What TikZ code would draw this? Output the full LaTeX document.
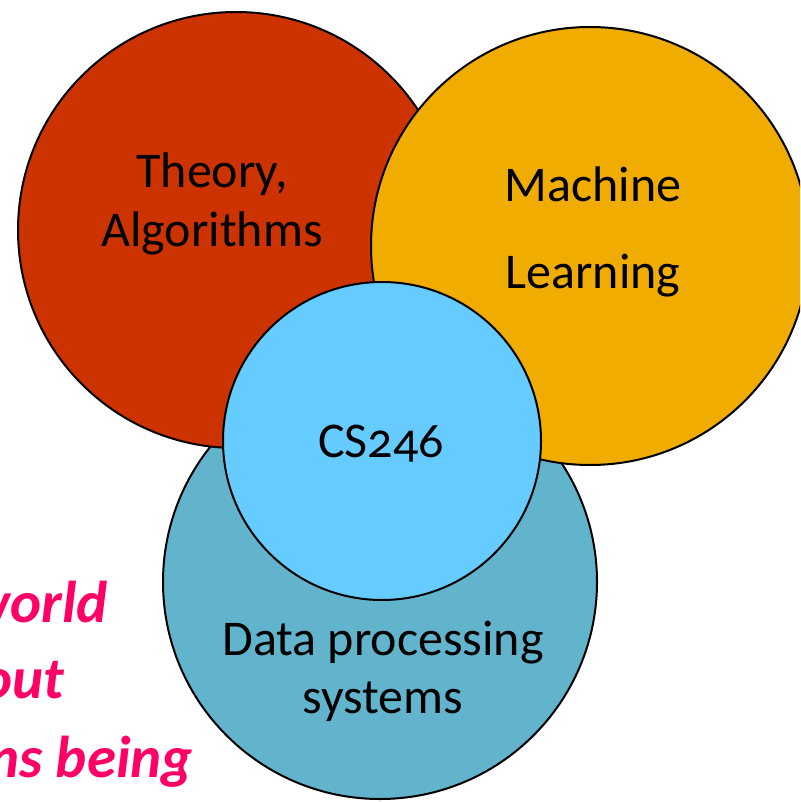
\documentclass[tikz,border=0pt]{standalone}
\usepackage{fontspec}
\setmainfont{Carlito}[Numbers=OldStyle]
\definecolor{theoryred}{HTML}{CC3300}
\definecolor{mlorange}{HTML}{F0AC00}
\definecolor{datateal}{HTML}{62B4CC}
\definecolor{csblue}{HTML}{66CCFF}
\definecolor{notepink}{HTML}{FF0066}
\tikzset{
    disc/.style={circle,draw=black,line width=2pt,inner sep=0pt},
    lbl/.style={anchor=base,font=\fontsize{50}{60}\selectfont,inner sep=0pt},
    note/.style={anchor=base east,text=notepink,font=\fontsize{59}{70}\selectfont\bfseries\itshape,inner sep=0pt}
}
\begin{document}
\begin{tikzpicture}[x=1pt,y=-1pt]
        \clip (0,0) rectangle (800,802);
        \fill[white] (0,0) rectangle (800,802);
        % the three fields, then the course on top
        \node[disc,fill=datateal,minimum size=434pt] (data) at (380,582) {};
        \node[disc,fill=theoryred,minimum size=436pt] (theory) at (236,230) {};
        \node[disc,fill=mlorange,minimum size=438pt] (ml) at (590,246) {};
        \node[disc,fill=csblue,minimum size=318pt] (cs) at (382,441) {};
            \node[lbl] (thy) at (212,188) {Theory,};
            \node[lbl] (alg) at (212,247) {Algorithms};
            \node[lbl] (mach) at (593,202) {Machine};
            \node[lbl] (learn) at (593,288) {Learning};
            \node[lbl] (course) at (381,457) {CS246};
            \node[lbl] (proc) at (383,655) {Data processing};
            \node[lbl] (sys) at (383,713) {systems};
        % text running in from the left edge
            \node[note] (world) at (108,622) {world};
            \node[note] (about) at (64,698) {out};
            \node[note] (being) at (193,777) {ns being};
    \end{tikzpicture}
\end{document}
